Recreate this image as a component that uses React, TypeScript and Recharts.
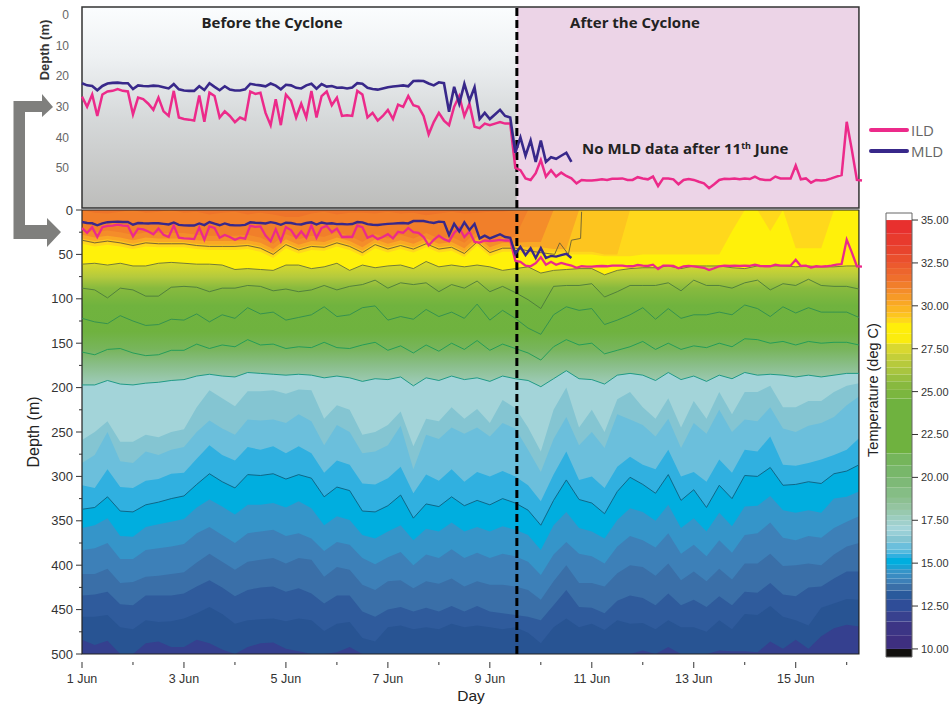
import { Area, ComposedChart, Line, ReferenceArea, ReferenceLine, XAxis, YAxis } from 'recharts';

const W = 949;
const H = 706;
const SANS = '"Liberation Sans", Arial, sans-serif';
const TITLE_FONT = '"Open Sans", sans-serif';

// mixed layer depths, one value every 0.1 day from 1 Jun
const ild = [
  26.7, 30, 26, 33, 26, 25, 24.8, 24.2, 24.8, 25, 32.5, 27, 27.5, 29, 31, 27, 31.5, 33, 24.8, 33.5,
  34, 34.2, 34.5, 26.3, 34.9, 25.4, 26.5, 33.5, 31.5, 33, 35, 33.5, 34.2, 25, 25.8, 25.4, 32, 36, 27.5, 36,
  26, 28, 33.5, 29, 33.5, 24.8, 33.5, 26.5, 25, 29.5, 27, 33, 32.8, 33, 24.8, 26, 33.5, 32, 34.5, 33,
  31, 34, 29.3, 30, 26.5, 29.5, 30, 33, 39, 35, 32, 34.5, 36, 30, 26.5, 33, 29, 36.5, 37, 35.5,
  36, 35.5, 35, 35.5, 35.5, 50, 50.7, 53.4, 53.9, 51.7, 47.4, 52.8, 50.7, 52.8, 51.5, 52.6, 53.4, 55, 53.9, 54.1,
  54.1, 53.9, 53.7, 53.9, 53.5, 53.5, 53.4, 53.9, 53.9, 53, 53.4, 53.7, 52.8, 55.9, 53.4, 53.4, 53.7, 55.3, 53.9, 53.6,
  53.9, 54.5, 55, 56.6, 55.3, 53.9, 53.5, 53.6, 53.4, 53.7, 53.4, 53.6, 52.8, 53.7, 53.9, 53.9, 52.8, 53.4, 53.4, 53.4,
  49.2, 53.7, 53.4, 54.8, 53.9, 54.1, 53.9, 53.4, 52.8, 52.3, 34.9, 44, 53.9, 54.1,
];
const mld = [
  22.3, 23, 23.2, 24.6, 23.2, 22.4, 22.2, 22.1, 22.3, 22.3, 24.2, 23, 23.2, 23.3, 23.1, 23.2, 23.6, 24, 22.6, 24.3,
  24.7, 24.8, 24.8, 23.3, 24.5, 22.3, 23.5, 24.6, 23.3, 24.4, 24.7, 24.7, 24.3, 22.5, 22.8, 23, 23.3, 22.4, 23.1, 24.3,
  22.8, 23, 23.8, 24, 23, 22.5, 24.1, 22.6, 23.4, 23.2, 23.8, 23.7, 24, 23.7, 22.3, 22.5, 23.8, 24.2, 24.4, 24,
  23.6, 23.4, 23.2, 23, 23.3, 21.6, 21.5, 21.6, 22.4, 23, 22, 22.3, 31.6, 23.5, 29, 22.5, 28, 23.6, 34, 32,
  34, 32.5, 31, 33, 33.5, 45, 40, 46, 41, 48, 41, 48, 46.5, 47, 46, 45, 48,
];

const panelTicks = [0, 10, 20, 30, 40, 50];
const depthTicks = [
  0, 25, 50, 75, 100, 125, 150, 175, 200, 225, 250, 275, 300, 325, 350, 375, 400, 425, 450, 475, 500,
];
const dayTicks = [1, 2, 3, 4, 5, 6, 7, 8, 9, 10, 11, 12, 13, 14, 15, 16];
const tempTicks = [10, 12.5, 15, 17.5, 20, 22.5, 25, 27.5, 30, 32.5, 35];

const CYCLONE_DAY = 9.53;
const LAST_DAY = 16.24;

// isotherm depths, one value every 0.25 day, the last one at the end of the record
const surface = [
  0, 0, 0, 0, 0, 0, 0, 0, 0, 0, 0, 0, 0, 0, 0, 0, 0, 0, 0, 0, 0, 0, 0, 0, 0, 0, 0, 0, 0, 0, 0,
  0, 0, 0, 0, 0, 0, 0, 0, 0, 0, 0, 0, 0, 0, 0, 0, 0, 0, 0, 0, 0, 0, 0, 0, 0, 0, 0, 0, 0, 0, 0,
];
const orangeMain = [
  0, 3, 4, 2, 0, 3, 2, 0, 3, 2, 5, 3, 2, 5, 3, 5, 8, 8, 4, 2, 5, 3, 3, 4, 2, 4, 3, 6, 4, 2, 4,
  3, 2, 2, 0, 0, 0, 0, 0, 0, 0, 0, 0, 0, 0, 0, 0, 0, 0, 0, 0, 0, 0, 0, 0, 0, 0, 0, 0, 0, 0, 0,
];
const bandA = [
  22, 25, 23, 25, 28, 25, 26, 26, 26, 28, 29, 29, 29, 28, 31, 38, 27, 33, 29, 30, 25, 29, 36, 27, 32, 28, 32, 26, 32, 30, 37,
  24, 36, 31, 30, 0, 0, 0, 0, 0, 0, 0, 0, 0, 0, 0, 0, 0, 0, 0, 0, 0, 0, 0, 0, 0, 0, 0, 0, 0, 0, 0,
];
const bandB = [
  28, 31, 29, 31, 34, 31, 32, 32, 32, 34, 35, 35, 35, 34, 37, 44, 33, 39, 35, 36, 31, 35, 42, 33, 38, 34, 38, 32, 38, 36, 43,
  30, 42, 37, 37, 36, 36, 0, 0, 0, 0, 0, 0, 0, 0, 0, 0, 0, 0, 0, 0, 0, 0, 0, 0, 0, 0, 0, 0, 0, 0, 0,
];
const bandC = [
  32, 35, 33, 35, 38, 35, 36, 36, 36, 38, 39, 39, 39, 38, 41, 48, 37, 43, 39, 40, 35, 39, 46, 37, 42, 38, 42, 36, 42, 40, 47,
  34, 46, 41, 41, 42, 42, 44, 44, 0, 0, 0, 0, 0, 0, 0, 0, 0, 0, 0, 0, 0, 0, 0, 0, 0, 0, 0, 0, 0, 0, 0,
];
const bandD = [
  35, 38, 36, 38, 41, 38, 39, 39, 39, 41, 42, 42, 42, 41, 44, 51, 40, 46, 42, 43, 38, 42, 49, 40, 45, 41, 45, 39, 45, 43, 50,
  37, 49, 44, 44, 47, 47, 47, 47, 47, 47, 50, 50, 0, 0, 0, 0, 0, 0, 0, 0, 0, 0, 0, 0, 0, 0, 0, 0, 0, 0, 0,
];
const bandE = [
  38, 41, 39, 41, 44, 41, 42, 42, 42, 44, 45, 45, 45, 44, 47, 54, 43, 49, 45, 46, 41, 45, 52, 43, 48, 44, 48, 42, 48, 46, 53,
  40, 52, 47, 47, 50, 50, 50, 50, 50, 50, 52, 52, 52, 50, 50, 50, 50, 50, 50, 50, 24, 0, 0, 24, 0, 43, 43, 43, 0, 0, 0,
];
const c60 = [
  61, 60, 62, 60, 63, 63, 60, 59, 60, 61, 61, 62, 67, 66, 67, 68, 62, 62, 66, 64, 60, 68, 62, 65, 63, 62, 66, 58, 64, 62, 64,
  62, 64, 68, 66, 64, 71, 68, 67, 66, 66, 73, 68, 66, 65, 65, 63, 66, 63, 63, 63, 65, 66, 63, 63, 63, 64, 63, 64, 64, 63, 63,
];
const c195 = [
  197, 197, 192, 196, 197, 195, 194, 192, 191, 187, 185, 187, 188, 183, 184, 185, 186, 185, 186, 189, 187, 189, 193, 190, 191, 188, 198, 189, 192, 187, 191,
  189, 193, 187, 190, 192, 199, 190, 181, 190, 191, 196, 186, 184, 186, 192, 183, 191, 187, 193, 186, 190, 183, 186, 185, 186, 188, 186, 188, 186, 184, 184,
];
const b16 = [
  259, 250, 238, 261, 261, 253, 256, 250, 247, 222, 203, 212, 221, 204, 204, 203, 207, 202, 203, 235, 220, 225, 253, 250, 242, 227, 266, 235, 238, 222, 235,
  224, 240, 214, 223, 245, 272, 225, 200, 245, 225, 250, 213, 205, 222, 235, 212, 245, 215, 235, 205, 230, 205, 205, 198, 222, 222, 215, 215, 205, 198, 195,
];
const b155 = [
  285, 276, 250, 283, 285, 272, 276, 270, 267, 250, 237, 246, 253, 236, 237, 236, 240, 230, 238, 265, 242, 250, 274, 272, 265, 243, 292, 253, 258, 245, 252,
  245, 255, 240, 246, 270, 295, 258, 233, 265, 250, 268, 230, 236, 242, 255, 235, 268, 240, 252, 225, 250, 236, 238, 222, 246, 250, 243, 240, 233, 220, 210,
];
const b152 = [
  310, 313, 292, 312, 313, 305, 303, 297, 296, 280, 265, 276, 282, 267, 270, 266, 274, 266, 274, 296, 282, 287, 308, 309, 302, 289, 319, 298, 305, 292, 306,
  295, 300, 294, 300, 310, 328, 298, 272, 304, 300, 313, 289, 278, 287, 292, 270, 300, 295, 306, 281, 296, 270, 272, 255, 287, 288, 285, 281, 276, 270, 257,
];
const c15 = [
  337, 335, 323, 339, 340, 332, 329, 325, 322, 309, 297, 306, 313, 298, 299, 297, 303, 298, 302, 323, 312, 316, 339, 340, 333, 321, 347, 331, 334, 323, 333,
  327, 332, 325, 330, 338, 355, 327, 304, 326, 330, 342, 317, 301, 309, 319, 298, 327, 315, 335, 310, 325, 299, 300, 290, 310, 309, 306, 308, 297, 294, 287,
];
const b14 = [
  358, 355, 347, 367, 368, 357, 354, 351, 348, 335, 326, 334, 343, 332, 332, 330, 335, 328, 336, 355, 345, 349, 366, 370, 362, 355, 372, 359, 362, 352, 362,
  357, 362, 356, 360, 366, 383, 355, 340, 358, 362, 370, 349, 336, 340, 350, 332, 358, 347, 362, 341, 356, 334, 333, 322, 338, 341, 338, 341, 325, 323, 317,
];
const b13 = [
  383, 381, 375, 393, 393, 383, 381, 379, 376, 364, 357, 366, 375, 364, 362, 360, 367, 364, 370, 384, 374, 377, 392, 399, 391, 385, 400, 388, 392, 382, 392,
  386, 392, 387, 390, 396, 411, 388, 374, 387, 390, 398, 379, 367, 372, 380, 364, 387, 377, 390, 372, 386, 366, 364, 352, 369, 372, 367, 369, 358, 351, 345,
];
const b12 = [
  410, 410, 404, 420, 419, 413, 412, 410, 408, 397, 387, 396, 405, 396, 394, 392, 398, 392, 394, 413, 402, 405, 422, 428, 418, 417, 426, 418, 421, 415, 424,
  418, 422, 422, 424, 428, 439, 418, 400, 420, 420, 424, 409, 400, 402, 412, 398, 417, 407, 418, 404, 416, 398, 398, 387, 401, 400, 398, 400, 388, 379, 375,
];
const b11 = [
  434, 433, 430, 444, 445, 434, 434, 434, 432, 424, 417, 425, 435, 428, 425, 424, 430, 426, 432, 443, 434, 434, 452, 458, 450, 447, 452, 448, 452, 446, 452,
  446, 452, 454, 456, 458, 462, 445, 428, 447, 448, 454, 440, 434, 437, 445, 432, 445, 439, 447, 435, 445, 430, 431, 420, 433, 435, 425, 424, 415, 407, 407,
];
const b10 = [
  458, 458, 456, 470, 472, 462, 464, 463, 460, 454, 447, 455, 466, 462, 461, 460, 463, 460, 462, 474, 466, 464, 482, 486, 470, 468, 472, 470, 472, 466, 470,
  468, 470, 472, 470, 476, 488, 470, 460, 470, 466, 473, 462, 466, 465, 472, 462, 470, 470, 475, 462, 472, 455, 456, 446, 458, 462, 468, 448, 443, 438, 439,
];
const b9 = [
  484, 490, 485, 500, 500, 488, 486, 492, 492, 484, 488, 495, 500, 492, 488, 487, 494, 497, 500, 500, 498, 492, 500, 500, 500, 500, 500, 500, 500, 500, 500,
  500, 500, 500, 500, 500, 500, 500, 500, 500, 500, 500, 500, 500, 496, 500, 492, 500, 500, 500, 496, 497, 497, 498, 486, 494, 484, 494, 480, 471, 467, 469,
];
// contour lines that have no colour edge of their own
const c90 = [
  88, 90, 99, 88, 90, 97, 97, 87, 86, 87, 92, 88, 88, 85, 86, 91, 89, 92, 90, 85, 90, 86, 84, 79, 88, 82, 84, 82, 92, 84, 88,
  80, 92, 86, 93, 101, 111, 86, 85, 85, 83, 98, 92, 85, 85, 85, 82, 91, 79, 85, 85, 88, 82, 79, 90, 83, 85, 78, 85, 86, 86, 89,
];
const c120 = [
  122, 126, 128, 119, 125, 130, 129, 123, 124, 117, 126, 118, 122, 110, 117, 115, 124, 121, 118, 109, 120, 118, 110, 108, 124, 120, 123, 112, 120, 115, 122,
  106, 124, 113, 122, 133, 140, 118, 109, 113, 111, 129, 124, 118, 110, 123, 111, 122, 118, 118, 115, 118, 107, 111, 120, 109, 116, 110, 115, 115, 115, 121,
];
const c155 = [
  160, 163, 157, 156, 161, 164, 163, 158, 158, 151, 156, 152, 154, 146, 152, 151, 156, 154, 155, 149, 155, 156, 152, 149, 158, 153, 161, 152, 159, 150, 157,
  147, 158, 151, 156, 161, 169, 154, 146, 152, 150, 162, 158, 154, 148, 157, 150, 157, 153, 155, 150, 154, 145, 146, 150, 148, 152, 148, 150, 149, 149, 152,
];
// the upper contour stops at the surface soon after the cyclone, so it has its own days
const c40Tail = [9.75, 10, 10.27, 10.37, 10.54, 10.6, 10.78, 10.8];
const c40 = [
  34, 37, 35, 37, 40, 37, 38, 38, 38, 40, 41, 41, 41, 40, 43, 50, 39, 45, 41, 42, 37, 41, 48, 39, 44, 40, 44, 38, 44, 42, 49,
  36, 48, 43, 43, 46, 48, 50, 37, 50, 34, 32, 2,
];

const bandLayers = [
  { key: 'surface', values: surface, fill: '#ee742a' },
  { key: 'orangeMain', values: orangeMain, fill: '#f17f2a' },
  { key: 'bandA', values: bandA, fill: '#f48d2a' },
  { key: 'bandB', values: bandB, fill: '#f9a825' },
  { key: 'bandC', values: bandC, fill: '#fdc51f' },
  { key: 'bandD', values: bandD, fill: '#ffd81c' },
  { key: 'bandE', values: bandE, fill: '#fff10a' },
  { key: 'c60', values: c60, fill: 'url(#greenFade)' },
  { key: 'c195', values: c195, fill: '#a3d4d9' },
  { key: 'b16', values: b16, fill: '#84c5d2' },
  { key: 'b155', values: b155, fill: '#6bbfdc' },
  { key: 'b152', values: b152, fill: '#30b0e0' },
  { key: 'c15', values: c15, fill: '#00aedf' },
  { key: 'b14', values: b14, fill: '#3595c9' },
  { key: 'b13', values: b13, fill: '#3d80b8' },
  { key: 'b12', values: b12, fill: '#3a6fa8' },
  { key: 'b11', values: b11, fill: '#2f5b9c' },
  { key: 'b10', values: b10, fill: '#285493' },
  { key: 'b9', values: b9, fill: '#35408f' },
];

const contourLines = [
  { key: 'c60', values: c60, stroke: '#66703a' },
  { key: 'c90', values: c90, stroke: '#4c7a3c' },
  { key: 'c120', values: c120, stroke: '#2f8f50' },
  { key: 'c155', values: c155, stroke: '#1c9a58' },
  { key: 'c195', values: c195, stroke: '#12947f' },
  { key: 'c15', values: c15, stroke: '#0d5f7e' },
];

const contourDays = [...dayTicks.flatMap((d) => [d, d + 0.25, d + 0.5, d + 0.75]).slice(0, 60), 16, LAST_DAY];
const contourRows = contourDays.map((day, i) => {
  const row: Record<string, number> = { day };
  bandLayers.forEach((b) => (row[b.key] = b.values[i]));
  contourLines.forEach((c) => (row[c.key] = c.values[i]));
  return row;
});
const c40Rows = [...contourDays.slice(0, 35), ...c40Tail].map((day, i) => ({ day, depth: c40[i] }));
const ildRows = ild.map((depth, i) => ({ day: 1 + i * 0.1, depth }));
const mldRows = mld.map((depth, i) => ({ day: 1 + i * 0.1, depth }));

// colour scale: edges in deg C, one colour per step
const scaleEdges = [
  9.53, 10, 10.8, 11.6, 12.2, 12.9, 13.4, 13.8, 14.1, 14.4, 14.65, 14.9, 15.3, 15.55, 15.8, 16.2, 16.6, 16.9, 17.2, 17.5,
  17.8, 18.1, 18.5, 18.8, 19.4, 20, 20.7, 21.4, 24.6, 25.1, 25.6, 26, 26.4, 26.8, 27.2, 27.8, 28.4, 29, 29.3, 29.6,
  30, 30.3, 30.7, 31, 31.4, 31.8, 32.2, 32.5, 33, 33.5, 34.2, 35, 35.41,
];
const scaleColors = [
  '#12100e', '#3e2f80', '#3c3585', '#38418f', '#2f4d98', '#2a5a9c', '#3a6fa8', '#3d80b8', '#3a8cc2', '#3595c9',
  '#1aa2d4', '#00aedf', '#30b0e0', '#55bade', '#6bbfdc', '#84c5d2', '#98cfd7', '#a3d4d9', '#a0d0cc', '#9ccdbf',
  '#98c9af', '#94c4a0', '#8dc092', '#85bd85', '#7eb977', '#78b76a', '#75b55b', '#6fb23f', '#7bb63f', '#88b93f',
  '#98bf3f', '#a9c53f', '#b7ca3c', '#c4cf39', '#d9d830', '#fbec0e', '#ffee0a', '#fed81a', '#fdc51f', '#fbb622',
  '#f9a825', '#f69a27', '#f48d2a', '#f17e2b', '#ef6f2c', '#ed652d', '#ec5a2e', '#ea4f2d', '#e8442d', '#e83a2d',
  '#e8302e', '#ffffff',
];
const scaleRows = [0, 1].map((x) => {
  const row: Record<string, number | number[]> = { x };
  scaleColors.forEach((_, i) => (row[`s${i}`] = [scaleEdges[i], scaleEdges[i + 1]]));
  return row;
});

const DepthTick = ({ x, y, payload }: any) => {
  const major = payload.value % 50 === 0;
  return (
    <g>
      <line x1={x} x2={x - (major ? 6 : 3)} y1={y} y2={y} stroke="#333" />
      {major && (
        <text x={x - 9} y={y} textAnchor="end" dominantBaseline="central" fontSize={13} fill="#333" fontFamily={SANS}>
          {payload.value}
        </text>
      )}
    </g>
  );
};

const DayTick = ({ x, y, payload }: any) => {
  const major = payload.value % 2 === 1;
  return (
    <g>
      <line x1={x} x2={x} y1={y} y2={y + (major ? 6 : 3)} stroke="#333" />
      {major && (
        <text x={x} y={y + 17} textAnchor="middle" dominantBaseline="central" fontSize={12.5} fill="#333" fontFamily={SANS}>
          {payload.value} Jun
        </text>
      )}
    </g>
  );
};

const layer: React.CSSProperties = { position: 'absolute', left: 0, top: 0 };

const Annotations = () => (
  <svg width={W} height={H} style={{ ...layer, pointerEvents: 'none' }}>
    <path
      d="M13.5 101 H42 V94 L53 107 L42 117 V112 H25 V225 H47 V218 L61 232 L47 247 V239 H13.5 Z"
      fill="#7f7f7d"
    />
    <text x={272} y={28} textAnchor="middle" fontSize={15} fontWeight={700} fill="#222" fontFamily={TITLE_FONT}>
      Before the Cyclone
    </text>
    <text x={635} y={28} textAnchor="middle" fontSize={15} fontWeight={700} fill="#222" fontFamily={TITLE_FONT}>
      After the Cyclone
    </text>
    <text x={582} y={154} fontSize={15} fontWeight={700} fill="#222" fontFamily={TITLE_FONT}>
      No MLD data after 11<tspan dy={-5} fontSize={9}>th</tspan>
      <tspan dy={5}> June</tspan>
    </text>
    <text transform="translate(49 50) rotate(-90)" textAnchor="middle" fontSize={13} fontWeight={700} fill="#333" fontFamily={SANS}>
      Depth (m)
    </text>
    <text transform="translate(39 432) rotate(-90)" textAnchor="middle" fontSize={16} fill="#222" fontFamily={SANS}>
      Depth (m)
    </text>
    <text x={471} y={701} textAnchor="middle" fontSize={15.5} fill="#222" fontFamily={SANS}>
      Day
    </text>
    <text transform="translate(878 390) rotate(-90)" textAnchor="middle" fontSize={14.5} fill="#222" fontFamily={SANS}>
      Temperature (deg C)
    </text>
    <line x1={871} x2={907} y1={130} y2={130} stroke="#ec2a8a" strokeWidth={4} strokeLinecap="round" />
    <line x1={871} x2={907} y1={151} y2={151} stroke="#38288a" strokeWidth={4} strokeLinecap="round" />
    <text x={911} y={136} fontSize={15} fill="#666" fontFamily={TITLE_FONT}>ILD</text>
    <text x={911} y={157} fontSize={15} fill="#666" fontFamily={TITLE_FONT}>MLD</text>
  </svg>
);

const App = () => (
  <div style={{ ...layer, width: W, height: H, background: '#fff', overflow: 'hidden' }}>
    {/* upper panel */}
    <ComposedChart width={W} height={H} style={layer} margin={{ top: 7, right: 87, bottom: 498, left: 42 }}>
      <defs>
        <linearGradient id="panelFade" x1="0" y1="0" x2="0" y2="1">
          <stop offset="0" stopColor="#fbfdfe" />
          <stop offset="0.25" stopColor="#eef1f3" />
          <stop offset="0.55" stopColor="#d6d9da" />
          <stop offset="1" stopColor="#bdbdbb" />
        </linearGradient>
      </defs>
      <XAxis type="number" dataKey="day" domain={[1, 16.294]} ticks={dayTicks} hide />
      <YAxis
        reversed
        domain={[-2.6, 63.07]}
        ticks={panelTicks}
        width={40}
        axisLine={false}
        tickLine={false}
        tickSize={0}
        tickMargin={13}
        tick={{ fontSize: 12, fill: '#666', fontFamily: SANS }}
      />
      <ReferenceArea x1={1} x2={CYCLONE_DAY} y1={-2.6} y2={63.07} fill="url(#panelFade)" fillOpacity={1} stroke="none" />
      <ReferenceArea x1={CYCLONE_DAY} x2={LAST_DAY} y1={-2.6} y2={63.07} fill="#ecd4e7" fillOpacity={1} stroke="none" />
      <ReferenceArea x1={1} x2={LAST_DAY} y1={-2.6} y2={63.07} fill="none" stroke="#333" strokeWidth={1.5} />
      <ReferenceLine x={CYCLONE_DAY} stroke="#000" strokeWidth={3} strokeDasharray="8 4" />
      <Line data={ildRows} dataKey="depth" stroke="#ec2a8a" strokeWidth={2.5} dot={false} isAnimationActive={false} />
      <Line data={mldRows} dataKey="depth" stroke="#38288a" strokeWidth={2.6} dot={false} isAnimationActive={false} />
    </ComposedChart>

    {/* temperature section */}
    <ComposedChart width={W} height={H} style={layer} data={contourRows} margin={{ top: 210, right: 87, bottom: 12, left: 42 }}>
      <defs>
        <linearGradient id="greenFade" gradientUnits="userSpaceOnUse" x1="0" y1="263" x2="0" y2="388">
          <stop offset="0" stopColor="#d9da2a" />
          <stop offset="0.11" stopColor="#b5ca3d" />
          <stop offset="0.2" stopColor="#88ba3e" />
          <stop offset="0.34" stopColor="#70b33e" />
          <stop offset="0.55" stopColor="#6fb23f" />
          <stop offset="0.69" stopColor="#78b55c" />
          <stop offset="0.82" stopColor="#8abe8a" />
          <stop offset="0.93" stopColor="#99c8ad" />
          <stop offset="1" stopColor="#9fcfc0" />
        </linearGradient>
      </defs>
      <XAxis
        type="number"
        dataKey="day"
        domain={[1, 16.294]}
        ticks={dayTicks}
        interval={0}
        axisLine={false}
        tickLine={false}
        tick={<DayTick />}
        height={40}
      />
      <YAxis
        yAxisId="depth"
        reversed
        domain={[0, 500]}
        ticks={depthTicks}
        interval={0}
        width={40}
        axisLine={false}
        tickLine={false}
        tickSize={0}
        tickMargin={0}
        tick={<DepthTick />}
      />
      <YAxis yAxisId="layers" reversed domain={[13.7, 330.9]} hide />
      {bandLayers.map((b) => (
        <Area
          key={b.key}
          yAxisId="depth"
          dataKey={b.key}
          baseValue={500}
          type="linear"
          fill={b.fill}
          fillOpacity={1}
          stroke="none"
          dot={false}
          activeDot={false}
          isAnimationActive={false}
        />
      ))}
      {contourLines.map((c) => (
        <Line
          key={c.key}
          yAxisId="depth"
          dataKey={c.key}
          type="linear"
          stroke={c.stroke}
          strokeWidth={0.9}
          dot={false}
          activeDot={false}
          isAnimationActive={false}
        />
      ))}
      <Line yAxisId="depth" data={c40Rows} dataKey="depth" stroke="#6a5f34" strokeWidth={0.9} dot={false} isAnimationActive={false} />
      <ReferenceArea yAxisId="depth" x1={1} x2={LAST_DAY} y1={0} y2={500} fill="none" stroke="#222" strokeWidth={1.2} />
      <ReferenceLine yAxisId="depth" x={CYCLONE_DAY} stroke="#000" strokeWidth={3} strokeDasharray="8 4" />
      <Line yAxisId="layers" data={ildRows} dataKey="depth" stroke="#ec2a8a" strokeWidth={2.3} dot={false} isAnimationActive={false} />
      <Line yAxisId="layers" data={mldRows} dataKey="depth" stroke="#38288a" strokeWidth={2.4} dot={false} isAnimationActive={false} />
    </ComposedChart>

    {/* colour scale */}
    <ComposedChart width={W} height={H} style={layer} data={scaleRows} margin={{ top: 213, right: 0, bottom: 49, left: 886 }}>
      <XAxis type="number" dataKey="x" domain={[0, 1]} hide />
      <YAxis
        orientation="right"
        domain={[9.53, 35.41]}
        ticks={tempTicks}
        interval={0}
        width={37}
        axisLine={false}
        tickSize={6}
        tickMargin={3}
        tickLine={{ stroke: '#333' }}
        tickFormatter={(v: number) => v.toFixed(2)}
        tick={{ fontSize: 11, fill: '#333', fontFamily: SANS }}
      />
      {scaleColors.map((color, i) => (
        <Area
          key={`s${i}`}
          dataKey={`s${i}`}
          type="linear"
          fill={color}
          fillOpacity={1}
          stroke="none"
          dot={false}
          activeDot={false}
          isAnimationActive={false}
        />
      ))}
      <ReferenceArea x1={0} x2={1} y1={9.53} y2={35.41} fill="none" stroke="#666" />
    </ComposedChart>

    <Annotations />
  </div>
);

export default App;
